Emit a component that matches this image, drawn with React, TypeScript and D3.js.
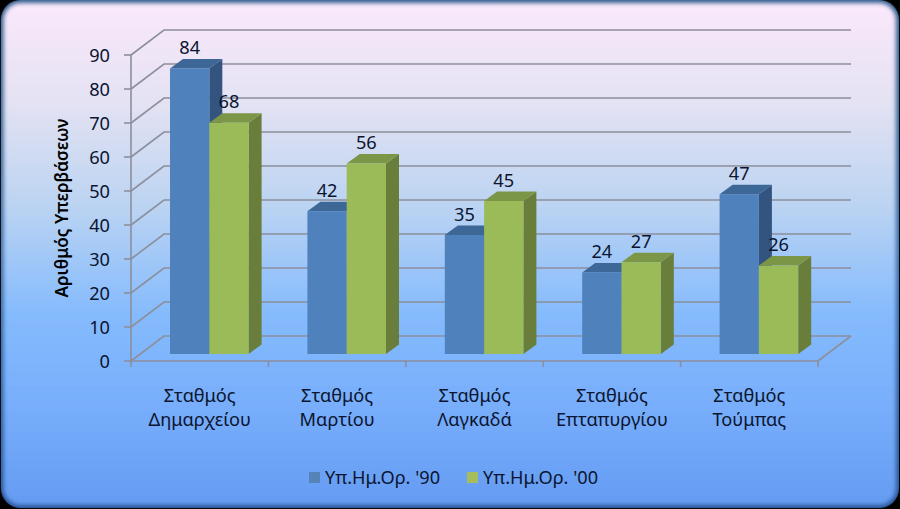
import React from "react";
import * as d3 from "d3";

const categories = [["Σταθμός", "Δημαρχείου"], ["Σταθμός", "Μαρτίου"], ["Σταθμός", "Λαγκαδά"], ["Σταθμός", "Επταπυργίου"], ["Σταθμός", "Τούμπας"]];
const series90 = [84, 42, 35, 24, 47];
const series00 = [68, 56, 45, 27, 26];
const seriesNames = ["Υπ.Ημ.Ορ. '90", "Υπ.Ημ.Ορ. '00"];
const yTicks = d3.range(0, 100, 10);
const yTitle = "Αριθμός Υπερβάσεων";

const FONT = "'Noto Sans', 'Open Sans', sans-serif";
const TEXT = "#0b1530";
const GRID = "#8c8f9c";

const x0 = d3.scaleLinear().domain([0, 5]).range([131, 818]);
const y = d3.scaleLinear().domain([0, 90]).range([361, 55]);
const wallDx = 33, wallDy = -25;
const barDx = 13, barDy = -9.5, barBase = 7;
const barW = 39.3, barInset = 39;

const colors = [
  { front: "#4f81bd", top: "#3d6796", side: "#33547f", key: "#5583b8" },
  { front: "#9bbb59", top: "#7c9647", side: "#687e3a", key: "#a5bd5c" },
];

function Bar({ x, v, c }: { x: number; v: number; c: (typeof colors)[0] }) {
  const top = y(v) - barBase;
  const bot = y(0) - barBase;
  return (
    <g>
      <polygon points={`${x + barW},${top} ${x + barW + barDx},${top + barDy} ${x + barW + barDx},${bot + barDy} ${x + barW},${bot}`} fill={c.side} />
      <polygon points={`${x},${top} ${x + barDx},${top + barDy} ${x + barW + barDx},${top + barDy} ${x + barW},${top}`} fill={c.top} />
      <rect x={x} y={top} width={barW} height={bot - top} fill={c.front} />
    </g>
  );
}

export default function App() {
  const bx = (i: number) => x0(i) + barInset;
  return (
    <svg width={900} height={509} style={{ position: "absolute", left: 0, top: 0, fontFamily: FONT }}>
      <defs>
        <linearGradient id="bg" x1="0" y1="0" x2="0" y2="1">
          <stop offset="0" stopColor="#fbe8fb" />
          <stop offset="0.2" stopColor="#e3e2f3" />
          <stop offset="0.4" stopColor="#bcd4f2" />
          <stop offset="0.62" stopColor="#85bbfd" />
          <stop offset="0.8" stopColor="#78aefb" />
          <stop offset="1" stopColor="#659cf2" />
        </linearGradient>
        <linearGradient id="edge" x1="0" y1="0" x2="0" y2="1">
          <stop offset="0" stopColor="#2f5f8f" />
          <stop offset="0.5" stopColor="#3f6ea8" />
          <stop offset="1" stopColor="#2a5598" />
        </linearGradient>
        <filter id="soft" x="-5%" y="-5%" width="110%" height="110%">
          <feGaussianBlur stdDeviation="2.2" />
        </filter>
      </defs>
      <rect width={900} height={509} fill="#000" />
      <rect x={1} y={0} width={898} height={508} rx={20} fill="url(#edge)" />
      <rect x={3.5} y={3} width={892.5} height={502} rx={17} fill="url(#bg)" filter="url(#soft)" />

      {/* walls */}
      <g stroke={GRID} strokeWidth={1.6} fill="none">
        {yTicks.map((t) => (
          <path key={t} d={`M${x0(0)},${y(t)} L${x0(0) + wallDx},${y(t) + wallDy} L${x0(5) + wallDx},${y(t) + wallDy}`} />
        ))}
        <line x1={x0(0)} x2={x0(0)} y1={y(90)} y2={y(0)} />
        {yTicks.map((t) => (
          <line key={t} x1={x0(0) - 7} x2={x0(0)} y1={y(t)} y2={y(t)} />
        ))}
        <line x1={x0(0)} x2={x0(5)} y1={y(0)} y2={y(0)} />
        <line x1={x0(5)} x2={x0(5) + wallDx} y1={y(0)} y2={y(0) + wallDy} />
        {d3.range(0, 6).map((i) => (
          <line key={i} x1={x0(i)} x2={x0(i)} y1={y(0)} y2={y(0) + 6} />
        ))}
      </g>

      {yTicks.map((t) => (
        <text key={t} x={x0(0) - 21} y={y(t) + 7} textAnchor="end" fontSize={18.2} fill={TEXT}>{t}</text>
      ))}
      <text transform="translate(68,208) rotate(-90)" textAnchor="middle" fontSize={17.2} fontWeight={600} fill="#000">{yTitle}</text>

      {/* bars */}
      {categories.map((_, i) => (
        <g key={i}>
          <Bar x={bx(i)} v={series90[i]} c={colors[0]} />
          <Bar x={bx(i) + barW} v={series00[i]} c={colors[1]} />
        </g>
      ))}
      {categories.map((_, i) => (
        <g key={i} fontSize={18.2} fill={TEXT} textAnchor="middle">
          <text x={bx(i) + barW / 2} y={y(series90[i]) - barBase + barDy - 5}>{series90[i]}</text>
          <text x={bx(i) + barW * 1.5} y={y(series00[i]) - barBase + barDy - 5}>{series00[i]}</text>
        </g>
      ))}

      {categories.map((c, i) => (
        <text key={i} textAnchor="middle" fontSize={18.2} fill={TEXT}>
          <tspan x={x0(i + 0.5)} y={402}>{c[0]}</tspan>
          <tspan x={x0(i + 0.5)} y={426}>{c[1]}</tspan>
        </text>
      ))}

      {/* legend */}
      <rect x={309} y={472} width={11} height={11} fill={colors[0].key} />
      <text x={325} y={484} fontSize={18.2} fill={TEXT}>{seriesNames[0]}</text>
      <rect x={467} y={472} width={11} height={11} fill={colors[1].key} />
      <text x={483} y={484} fontSize={18.2} fill={TEXT}>{seriesNames[1]}</text>
    </svg>
  );
}
